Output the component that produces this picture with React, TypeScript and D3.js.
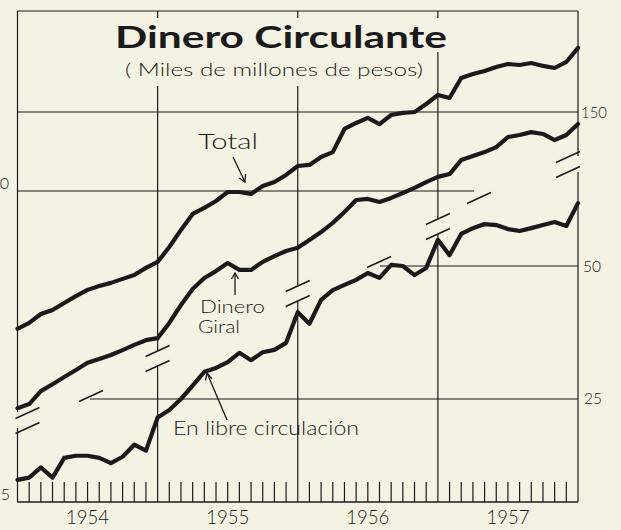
import React from "react";
import * as d3 from "d3";

// monthly points, Dec 1953 .. Dec 1957 (index 0 = end of 1953)
const months = d3.range(0, 49);

// Total (upper scale)
const totalValues = [
  49.3, 50.8, 53.2, 54.3, 56.3, 58.3, 60.2, 61.4, 62.4, 63.7, 65.0, 67.4,
  69.5, 75.0, 81.9, 88.9, 91.7, 95.0, 99.5, 99.5, 98.5, 102.6, 104.7, 108.6,
  113.7, 114.3, 119.1, 122.1, 137.5, 141.8, 145.5, 141.0, 147.7, 149.3, 150.0, 156.3,
  163.7, 161.2, 178.6, 182.3, 185.1, 189.0, 191.9, 190.9, 192.9, 190.0, 188.0, 193.9,
  208.4,
];

// Dinero giral (upper scale)
const giralValues = [
  32.8, 33.5, 35.8, 37.1, 38.5, 39.9, 41.4, 42.2, 43.1, 44.2, 45.4, 46.5,
  47.0, 50.8, 55.7, 60.5, 64.0, 66.3, 69.1, 66.7, 66.7, 69.5, 71.6, 73.5,
  74.7, 77.8, 81.0, 84.9, 89.8, 95.5, 96.0, 94.5, 96.5, 99.0, 101.6, 104.7,
  107.5, 109.1, 117.2, 119.7, 122.1, 125.3, 131.9, 133.3, 135.3, 134.0, 129.9, 133.3,
  141.0,
];

// En libre circulacion (lower scale)
const libreValues = [
  16.4, 16.6, 17.5, 16.6, 18.4, 18.6, 18.6, 18.4, 17.9, 18.5, 19.7, 19.1,
  22.7, 23.6, 25.0, 26.8, 28.8, 29.4, 30.3, 31.8, 30.6, 31.9, 32.3, 33.5,
  39.3, 37.0, 41.9, 44.1, 45.3, 46.5, 48.2, 47.0, 50.3, 50.0, 47.7, 49.5,
  57.3, 52.9, 59.1, 60.9, 62.2, 61.9, 60.6, 60.0, 60.9, 61.9, 62.9, 61.6,
  69.4,
];

const years = ["1954", "1955", "1956", "1957"];
const upperTicks = [150, 100];
const lowerTicks = [50, 25, 15];

const W = 621;
const H = 530;
const left = 17.5;
const right = 578;
const top = 11;
const bottom = 502;
const paper = "#f4f2e3";
const ink = "#1a1a1a";
const font = "Lato, 'DejaVu Sans', sans-serif";

// scale break band (y of the "//" marks at each year boundary)
const breakY = [420, 358, 293, 226, 164];

export default function App() {
  const x = d3.scaleLinear().domain([0, 48]).range([left, right]);
  const yUp = d3.scaleLog().domain([100, 150]).range([191, 112]);
  const yLo = d3.scaleLog().domain([25, 50]).range([399, 266]);

  const lineUp = d3
    .line<number>()
    .x((_, i) => x(months[i]))
    .y((d) => yUp(d));
  const lineLo = d3
    .line<number>()
    .x((_, i) => x(months[i]))
    .y((d) => yLo(d));

  // horizontal grid extents
  const hGrid = [
    { y: yUp(150), x1: left, x2: right },
    { y: yUp(100), x1: left, x2: 474 },
    { y: yLo(50), x1: 380, x2: right },
    { y: yLo(25), x1: 90, x2: right },
  ];

  const boundaries = [0, 12, 24, 36, 48];

  const slash = (cx: number, cy: number, k: string) => (
    <line key={k} x1={cx - 12} y1={cy + 5.5} x2={cx + 12} y2={cy - 5.5} stroke={ink} strokeWidth={1.4} />
  );

  return (
    <svg
      width={W}
      height={H}
      style={{ position: "absolute", left: 0, top: 0, background: paper }}
      fontFamily={font}
    >
      <rect x={0} y={0} width={W} height={H} fill={paper} />

      {/* top and bottom borders */}
      <line x1={left} y1={top} x2={right} y2={top} stroke={ink} strokeWidth={1.2} />
      <line x1={left} y1={bottom} x2={right} y2={bottom} stroke={ink} strokeWidth={1.4} />

      {/* vertical lines with a gap at the scale break */}
      {boundaries.map((m, i) => {
        const bx = x(m);
        const g1 = breakY[i] - 8;
        const g2 = breakY[i] + 8;
        return (
          <g key={"v" + m}>
            <line x1={bx} y1={top} x2={bx} y2={g1} stroke={ink} strokeWidth={1.2} />
            <line x1={bx} y1={g2} x2={bx} y2={bottom} stroke={ink} strokeWidth={1.2} />
          </g>
        );
      })}

      {/* break marks */}
      {boundaries.map((m, i) => {
        let bx = x(m);
        if (i === 0) bx += 10;
        if (i === 4) bx -= 10;
        return (
          <g key={"b" + m}>
            {slash(bx, breakY[i] - 7, "a")}
            {slash(bx, breakY[i] + 8, "b")}
          </g>
        );
      })}

      {/* horizontal grid */}
      {hGrid.map((g, i) => (
        <line key={"h" + i} x1={g.x1} y1={g.y} x2={g.x2} y2={g.y} stroke={ink} strokeWidth={1.1} />
      ))}
      {slash(91, yLo(25) - 3, "s25")}
      {slash(379, yLo(50) - 4, "s50")}
      {slash(479, yUp(100) + 7, "s100")}

      {/* month ticks */}
      {months
        .filter((m) => m % 12 !== 0)
        .map((m) => (
          <line key={"t" + m} x1={x(m)} y1={482} x2={x(m)} y2={bottom} stroke={ink} strokeWidth={1.2} />
        ))}

      {/* year labels */}
      {years.map((yr, i) => (
        <text key={yr} x={x(i * 12 + 6)} y={524} textAnchor="middle" fontSize={20} fontWeight={300} fill={ink}
          textLength={43} lengthAdjust="spacingAndGlyphs">
          {yr}
        </text>
      ))}

      {/* value labels */}
      <text x={581} y={yUp(150) + 6} fontSize={16} fontWeight={300} fill={ink} textLength={26} lengthAdjust="spacingAndGlyphs">
        {upperTicks[0]}
      </text>
      <text x={9} y={yUp(100) - 2} fontSize={16} fontWeight={300} fill={ink} textAnchor="end">
        {upperTicks[1]}
      </text>
      <text x={583} y={yLo(lowerTicks[0]) + 6} fontSize={16} fontWeight={300} fill={ink} textLength={18} lengthAdjust="spacingAndGlyphs">
        {lowerTicks[0]}
      </text>
      <text x={584} y={yLo(lowerTicks[1]) + 5} fontSize={16} fontWeight={300} fill={ink} textLength={18} lengthAdjust="spacingAndGlyphs">
        {lowerTicks[1]}
      </text>
      <text x={10} y={500} fontSize={16} fontWeight={300} fill={ink} textAnchor="end">
        {lowerTicks[2]}
      </text>

      {/* data lines */}
      <g fill="none" stroke={ink} strokeWidth={4.2} strokeLinejoin="round" strokeLinecap="round">
        <path d={lineUp(totalValues) || ""} />
        <path d={lineUp(giralValues) || ""} />
        <path d={lineLo(libreValues) || ""} />
      </g>

      {/* title, masking the grid behind it */}
      <rect x={108} y={18} width={345} height={34} fill={paper} />
      <rect x={118} y={52} width={312} height={34} fill={paper} />
      <text x={115} y={48} fontSize={31} fontWeight="bold" fill={ink} textLength={332} lengthAdjust="spacingAndGlyphs">
        Dinero Circulante
      </text>
      <text x={125} y={76} fontSize={18} fontWeight={300} fill={ink} textLength={298} lengthAdjust="spacingAndGlyphs">
        ( Miles de millones de pesos)
      </text>

      {/* annotations */}
      <text x={198} y={149} fontSize={22} fontWeight={300} fill={ink} textLength={60} lengthAdjust="spacingAndGlyphs">Total</text>
      <line x1={233} y1={157} x2={245} y2={182} stroke={ink} strokeWidth={1.3} />
      <path d="M239,178 L245,182 L245.5,174" fill="none" stroke={ink} strokeWidth={1.3} />

      <text x={200} y={313} fontSize={18} fontWeight={300} fill={ink} textLength={65} lengthAdjust="spacingAndGlyphs">Dinero</text>
      <text x={198} y={333} fontSize={18} fontWeight={300} fill={ink} textLength={42} lengthAdjust="spacingAndGlyphs">Giral</text>
      <line x1={235} y1={295} x2={235} y2={273} stroke={ink} strokeWidth={1.3} />
      <path d="M231.5,279 L235,273 L238.5,279" fill="none" stroke={ink} strokeWidth={1.3} />

      <text x={173} y={435} fontSize={20} fontWeight={300} fill={ink} textLength={186} lengthAdjust="spacingAndGlyphs">
        En libre circulación
      </text>
      <line x1={227} y1={420} x2={207} y2={373} stroke={ink} strokeWidth={1.3} />
      <path d="M205.5,380.5 L207,373 L212,379" fill="none" stroke={ink} strokeWidth={1.3} />
    </svg>
  );
}
